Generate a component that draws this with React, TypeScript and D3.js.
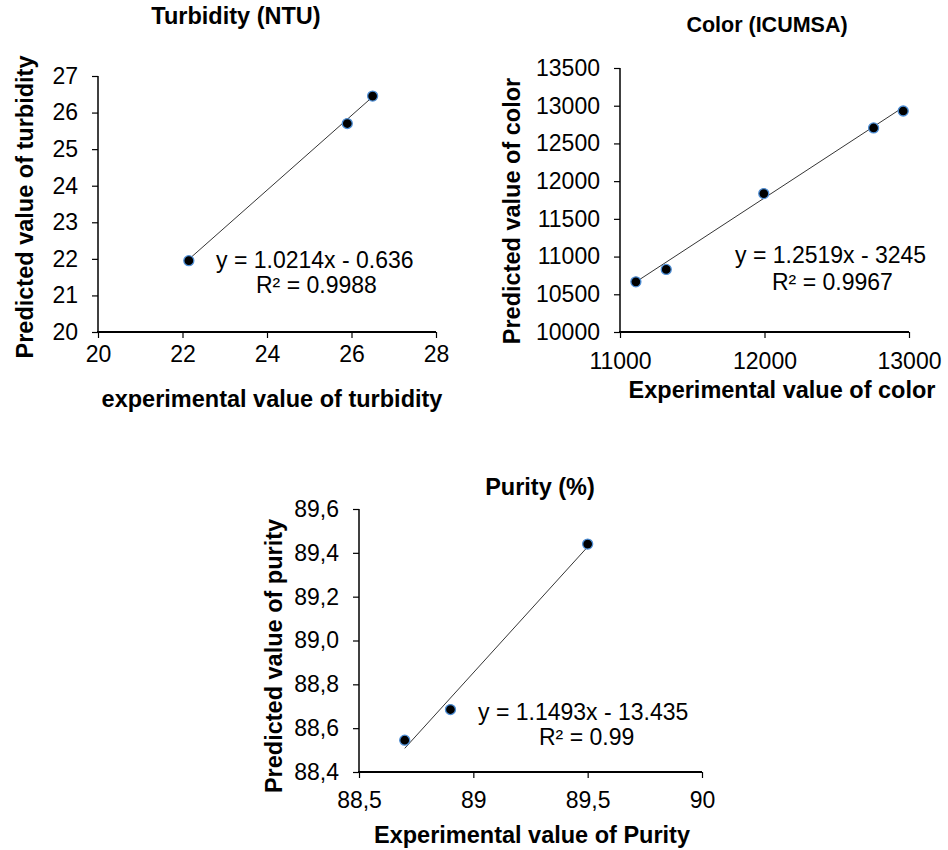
import * as d3 from "d3";
import { useEffect, useRef } from "react";

// Turbidity (NTU)
const turbidityExp = [22.15, 25.9, 26.5];
const turbidityPred = [21.95, 25.7, 26.45];
const turbidityXTicks = [20, 22, 24, 26, 28];
const turbidityYTicks = [20, 21, 22, 23, 24, 25, 26, 27];
const turbidityFit = [1.0214, -0.636];

// Color (ICUMSA)
const colorExp = [11110, 11320, 11995, 12755, 12960];
const colorPred = [10665, 10830, 11835, 12705, 12930];
const colorXTicks = [11000, 12000, 13000];
const colorYTicks = [10000, 10500, 11000, 11500, 12000, 12500, 13000, 13500];
const colorFit = [1.2519, -3245];

// Purity (%)
const purityExp = [88.7, 88.9, 89.5];
const purityPred = [88.545, 88.685, 89.44];
const purityXTicks = [88.5, 89, 89.5, 90];
const purityYTicks = [88.4, 88.6, 88.8, 89.0, 89.2, 89.4, 89.6];
const purityFit = [1.1493, -13.435];

const FONT = '"Liberation Sans", Arial, sans-serif';

const commaNum = (v: number) => String(v).replace(".", ",");
const commaFixed = (v: number) => v.toFixed(1).replace(".", ",");

const panels = [
  {
    title: "Turbidity (NTU)",
    titleSize: 23.5,
    xLabel: "experimental value of turbidity",
    yLabel: "Predicted value of turbidity",
    equation: "y = 1.0214x - 0.636",
    r2: "R² = 0.9988",
    xs: turbidityExp,
    ys: turbidityPred,
    fit: turbidityFit,
    xTicks: turbidityXTicks,
    yTicks: turbidityYTicks,
    xFmt: d3.format("d"),
    yFmt: d3.format("d"),
    xRange: [98, 436],
    yRange: [332, 76],
    titlePos: [236, 24],
    xLabelPos: [272, 407],
    yLabelPos: [33, 207],
    xTickPad: 30,
    eqPos: [216, 268],
    r2Pos: [256, 293],
  },
  {
    title: "Color (ICUMSA)",
    titleSize: 21.5,
    xLabel: "Experimental value of color",
    yLabel: "Predicted value of color",
    equation: "y = 1.2519x - 3245",
    r2: "R² = 0.9967",
    xs: colorExp,
    ys: colorPred,
    fit: colorFit,
    xTicks: colorXTicks,
    yTicks: colorYTicks,
    xFmt: d3.format("d"),
    yFmt: d3.format("d"),
    xRange: [620, 909],
    yRange: [332, 68],
    titlePos: [767, 32],
    xLabelPos: [782, 398],
    yLabelPos: [520, 211],
    xTickPad: 37,
    eqPos: [735, 263],
    r2Pos: [772, 290],
  },
  {
    title: "Purity (%)",
    titleSize: 23.5,
    xLabel: "Experimental value of Purity",
    yLabel: "Predicted value of purity",
    equation: "y = 1.1493x - 13.435",
    r2: "R² = 0.99",
    xs: purityExp,
    ys: purityPred,
    fit: purityFit,
    xTicks: purityXTicks,
    yTicks: purityYTicks,
    xFmt: commaNum,
    yFmt: commaFixed,
    xRange: [359, 702],
    yRange: [772, 509],
    titlePos: [540, 495],
    xLabelPos: [532, 843],
    yLabelPos: [282, 656],
    xTickPad: 36,
    eqPos: [478, 720],
    r2Pos: [539, 745],
  },
];

const App = () => {
  const svgRef = useRef<SVGSVGElement>(null);

  useEffect(() => {
    const svg = d3.select(svgRef.current);
    svg.selectAll("*").remove();

    panels.forEach((p) => {
      const x = d3
        .scaleLinear()
        .domain(d3.extent(p.xTicks) as [number, number])
        .range(p.xRange);
      const y = d3
        .scaleLinear()
        .domain(d3.extent(p.yTicks) as [number, number])
        .range(p.yRange);

      const g = svg.append("g").style("font-family", FONT);

      // axes
      const yAxis = g
        .append("g")
        .attr("transform", `translate(${p.xRange[0]},0)`)
        .call(
          d3
            .axisLeft(y)
            .tickValues(p.yTicks)
            .tickSize(6)
            .tickPadding(14)
            .tickFormat((d) => p.yFmt(d as number))
        );
      yAxis.select(".domain").attr("stroke", "#000").attr("stroke-width", 1.5).attr("d", `M0,${p.yRange[0] + 1}V${p.yRange[1]}`);
      yAxis.selectAll(".tick line").attr("stroke", "#000").attr("stroke-width", 1.2);
      yAxis
        .selectAll(".tick text")
        .attr("fill", "#000")
        .style("font-size", "23px")
        .style("font-family", FONT);

      const xAxis = g
        .append("g")
        .attr("transform", `translate(0,${p.yRange[0]})`)
        .call(
          d3
            .axisBottom(x)
            .tickValues(p.xTicks)
            .tickSize(6)
            .tickPadding(p.xTickPad - 22)
            .tickFormat((d) => p.xFmt(d as number))
        );
      xAxis.select(".domain").attr("stroke", "#000").attr("stroke-width", 2).attr("d", `M${p.xRange[0] - 1},0H${p.xRange[1]}`);
      xAxis.selectAll(".tick line").attr("stroke", "#000").attr("stroke-width", 1.2);
      xAxis
        .selectAll(".tick text")
        .attr("fill", "#000")
        .style("font-size", "23px")
        .style("font-family", FONT);

      // trendline
      const [m, b] = p.fit;
      const [x0, x1] = d3.extent(p.xs) as [number, number];
      g.append("line")
        .attr("x1", x(x0))
        .attr("y1", y(m * x0 + b))
        .attr("x2", x(x1))
        .attr("y2", y(m * x1 + b))
        .attr("stroke", "#000")
        .attr("stroke-width", 0.8);

      // points
      g.append("g")
        .selectAll("circle")
        .data(p.xs.map((v, i) => [v, p.ys[i]]))
        .join("circle")
        .attr("cx", (d) => x(d[0]))
        .attr("cy", (d) => y(d[1]))
        .attr("r", 5)
        .attr("fill", "#000")
        .attr("stroke", "#4f8fd6")
        .attr("stroke-width", 1.3);

      // equation
      g.append("text")
        .attr("x", p.eqPos[0])
        .attr("y", p.eqPos[1])
        .style("font-size", "23px")
        .text(p.equation);
      g.append("text")
        .attr("x", p.r2Pos[0])
        .attr("y", p.r2Pos[1])
        .style("font-size", "23px")
        .text(p.r2);

      // titles
      g.append("text")
        .attr("x", p.titlePos[0])
        .attr("y", p.titlePos[1])
        .attr("text-anchor", "middle")
        .style("font-weight", "bold")
        .style("font-size", `${p.titleSize}px`)
        .text(p.title);
      g.append("text")
        .attr("x", p.xLabelPos[0])
        .attr("y", p.xLabelPos[1])
        .attr("text-anchor", "middle")
        .style("font-weight", "bold")
        .style("font-size", "23.5px")
        .text(p.xLabel);
      g.append("text")
        .attr("transform", `translate(${p.yLabelPos[0]},${p.yLabelPos[1]}) rotate(-90)`)
        .attr("text-anchor", "middle")
        .style("font-weight", "bold")
        .style("font-size", "23.5px")
        .text(p.yLabel);
    });
  }, []);

  return (
    <svg
      ref={svgRef}
      width={948}
      height={850}
      style={{ position: "absolute", left: 0, top: 0, background: "#fff" }}
    ></svg>
  );
};

export default App;
